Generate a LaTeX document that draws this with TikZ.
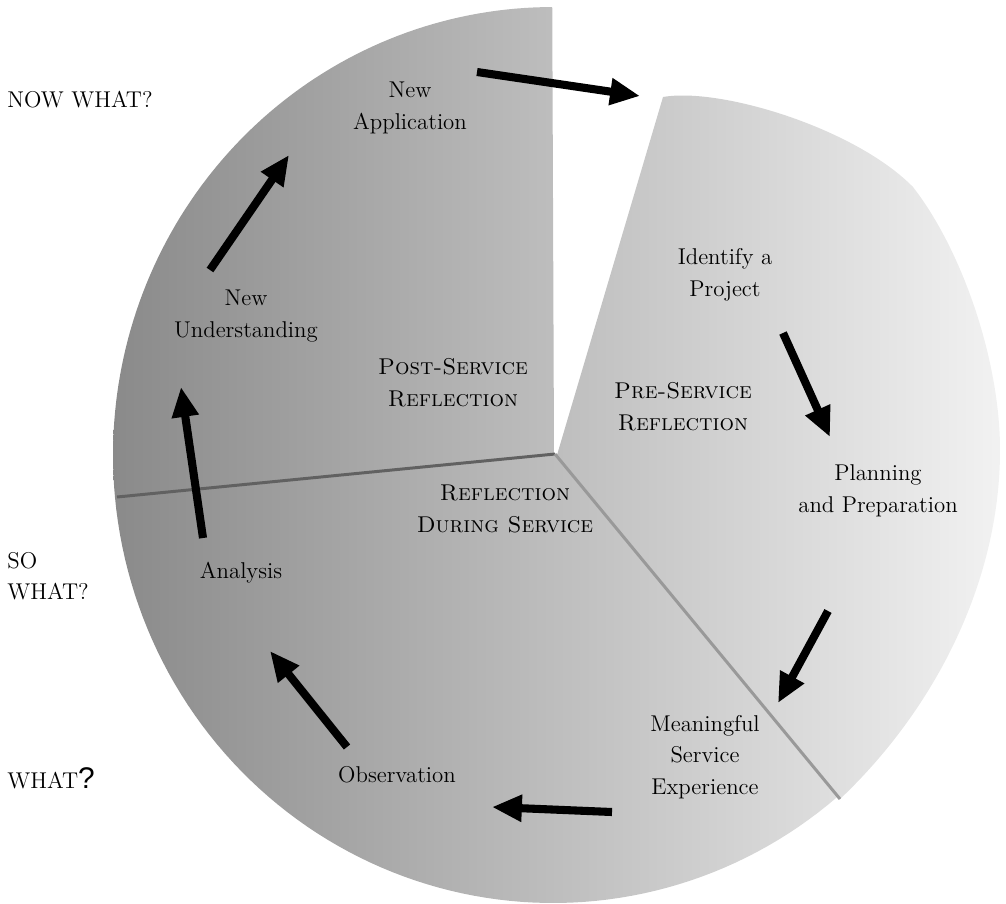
\documentclass[tikz,border=0pt]{standalone}
\usepackage{fontspec}
\newfontfamily\qfont{Liberation Sans}
\usetikzlibrary{arrows.meta}
\tikzset{
  lbl/.style={font=\fontsize{13}{18}\selectfont, align=center, inner sep=0pt, text=black},
  side/.style={font=\fontsize{13}{18}\selectfont, align=left, anchor=west, inner sep=0pt, text=black},
  cyc/.style={line width=4.6pt, -{Triangle[length=17pt,width=14.5pt]}, black},
  slicefill/.style={left color=black!46, right color=black!5},
}
\begin{document}
\begin{tikzpicture}[x=0.02cm, y=-0.02cm]
\useasboundingbox (0,0) rectangle (1006,903);
% slices
\begin{scope}
\clip (554,454) -- plot[domain=90.1:185.4, samples=80] ({553+440*cos(\x)}, {455-448*sin(\x)}) -- cycle;
\shade[slicefill] (110,0) rectangle (1006,903);
\end{scope}
\begin{scope}
\clip (556,455) -- (117,497) -- plot[domain=185.4:310.3, samples=80] ({553+440*cos(\x)}, {455-448*sin(\x)}) -- cycle;
\shade[slicefill] (110,0) rectangle (1006,903);
\end{scope}
\begin{scope}
\clip (557,455) -- (663,97) .. controls (720,87) and (855,128) .. (913,187)
  .. controls (962,250) and (1000,360) .. (1000,450)
  .. controls (1000,585) and (932,712) .. (840,799) -- cycle;
\shade[slicefill] (110,0) rectangle (1006,903);
\end{scope}
% dividers
\coordinate (ctr) at (555,454);
\coordinate (dl) at (117,497);
\coordinate (dr) at (840,799);
\draw[line width=1.7pt, black!62] (dl) -- (ctr);
\draw[line width=1.7pt, black!40] (ctr) -- (dr);
% labels
\node[lbl] (app) at (410,108) {New\\Application};
\node[lbl] (und) at (246,316) {New\\Understanding};
\node[lbl] (post) at (453,383) {\textsc{Post-Service}\\\textsc{Reflection}};
\node[lbl] (ident) at (725,275) {Identify a\\Project};
\node[lbl] (pre) at (683,407) {\textsc{Pre-Service}\\\textsc{Reflection}};
\node[lbl] (plan) at (878,491) {Planning\\and Preparation};
\node[lbl] (during) at (505,509) {\textsc{Reflection}\\\textsc{During Service}};
\node[lbl] (anal) at (241,573) {Analysis};
\node[lbl] (obs) at (397,775) {Observation};
\node[lbl] (mean) at (705,757) {Meaningful\\Service\\Experience};
\node[side] (now) at (7,100) {NOW WHAT?};
\node[side] (so) at (7,576) {SO\\WHAT?};
\node[side] (what) at (7,778) {WHAT{\qfont\fontsize{17}{18}\selectfont ?}};
% arrows
\coordinate (a1s) at (477,72);  \coordinate (a1e) at (640,96);
\coordinate (a2s) at (783,333); \coordinate (a2e) at (830,437);
\coordinate (a3s) at (828,611); \coordinate (a3e) at (778,703);
\coordinate (a4s) at (612,812); \coordinate (a4e) at (492,807);
\coordinate (a5s) at (347,747); \coordinate (a5e) at (270,651);
\coordinate (a6s) at (203,538); \coordinate (a6e) at (181,387);
\coordinate (a7s) at (210,270); \coordinate (a7e) at (289,155);
\foreach \i in {1,...,7} { \draw[cyc] (a\i s) -- (a\i e); }
\end{tikzpicture}
\end{document}
